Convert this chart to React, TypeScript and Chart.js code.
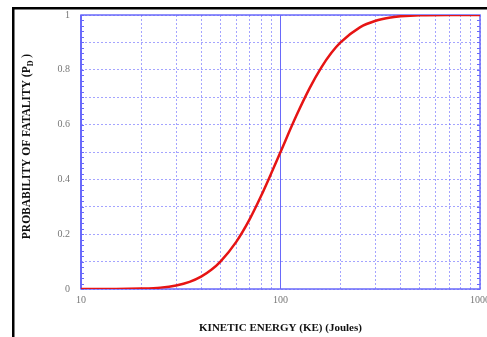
import React, { useEffect, useRef } from "react";
import { Chart, registerables } from "chart.js";

Chart.register(...registerables);

const energy = [10, 15, 20, 25, 30, 35, 40, 45, 50, 60, 70, 80, 90, 100, 120, 140, 160, 180, 200, 250, 300, 350, 400, 500, 700, 1000];
const fatality = [0, 0, 0.0015, 0.005, 0.013, 0.026, 0.045, 0.07, 0.1, 0.172, 0.254, 0.34, 0.423, 0.5, 0.632, 0.733, 0.808, 0.862, 0.9, 0.955, 0.979, 0.99, 0.995, 0.999, 1, 1];
const xTickValues = [10, 20, 30, 40, 50, 60, 70, 80, 90, 100, 200, 300, 400, 500, 600, 700, 800, 900, 1000];
const xLabelValues = [10, 100, 1000];
const yTitleMain = "PROBABILITY OF FATALITY (P";
const yTitleSub = "D";
const yTitleEnd = " )";
const xTitle = "KINETIC ENERGY (KE) (Joules)";

const BLUE = "rgb(105,105,250)";
const GRID = "rgba(90,90,255,0.55)";
const SERIF = "'Liberation Serif', 'Times New Roman', serif";

const decor = {
  id: "decor",
  beforeDatasetsDraw(chart: any) {
    const { ctx, chartArea: a, scales } = chart;
    const y = scales.y;
    ctx.save();
    ctx.strokeStyle = BLUE;
    ctx.lineWidth = 1.5;
    ctx.strokeRect(a.left, a.top, a.right - a.left, a.bottom - a.top);
    ctx.lineWidth = 2;
    ctx.beginPath();
    ctx.moveTo(a.left, a.top);
    ctx.lineTo(a.left, a.bottom);
    ctx.stroke();
    ctx.lineWidth = 1;
    for (let i = 0; i <= 50; i++) {
      const py = Math.round(y.getPixelForValue(i / 50)) + 0.5;
      ctx.beginPath();
      ctx.moveTo(a.left, py);
      ctx.lineTo(a.left + 3, py);
      ctx.moveTo(a.right, py);
      ctx.lineTo(a.right - 3, py);
      ctx.stroke();
    }
    ctx.restore();
  },
  afterDraw(chart: any) {
    const { ctx, chartArea: a } = chart;
    ctx.save();
    ctx.fillStyle = "#000";
    ctx.fillRect(12, 7, 487 - 12, 2.5);
    ctx.fillRect(12, 7, 2.5, 337 - 7);
    const cy = (a.top + a.bottom) / 2 - 5.5;
    ctx.translate(27.5, cy);
    ctx.rotate(-Math.PI / 2);
    ctx.fillStyle = "#111";
    ctx.textBaseline = "middle";
    const mainFont = `bold 11.5px ${SERIF}`;
    const subFont = `bold 8px ${SERIF}`;
    ctx.font = mainFont;
    const w1 = ctx.measureText(yTitleMain).width;
    const w3 = ctx.measureText(yTitleEnd).width;
    ctx.font = subFont;
    const w2 = ctx.measureText(yTitleSub).width;
    let x0 = -(w1 + w2 + w3) / 2;
    ctx.font = mainFont;
    ctx.fillText(yTitleMain, x0, 0);
    x0 += w1;
    ctx.font = subFont;
    ctx.fillText(yTitleSub, x0, 3);
    x0 += w2;
    ctx.font = mainFont;
    ctx.fillText(yTitleEnd, x0, 0);
    ctx.restore();
  },
};

export default function App() {
  const ref = useRef<HTMLCanvasElement>(null);
  useEffect(() => {
    if (!ref.current) return;
    const chart = new Chart(ref.current, {
      type: "line",
      data: {
        datasets: [
          {
            data: energy.map((e, i) => ({ x: e, y: fatality[i] })),
            borderColor: "rgb(230,20,20)",
            borderWidth: 2.5,
            pointRadius: 0,
            cubicInterpolationMode: "monotone",
            fill: false,
          },
        ],
      },
      options: {
        animation: false,
        responsive: false,
        devicePixelRatio: 1,
        layout: { padding: { left: 0, top: 15, right: 7, bottom: 0 } },
        plugins: { legend: { display: false }, tooltip: { enabled: false } },
        scales: {
          x: {
            type: "logarithmic",
            min: 10,
            max: 1000,
            afterBuildTicks: (s: any) => {
              s.ticks = xTickValues.map((v) => ({ value: v, major: xLabelValues.includes(v) }));
            },
            afterFit: (s: any) => {
              s.height = 48;
              s.paddingLeft = 0;
              s.paddingRight = 0;
            },
            grid: {
              drawTicks: false,
              color: (c: any) => (c.tick && c.tick.value === 100 ? BLUE : GRID),
              lineWidth: 1,
            },
            border: {
              display: false,
              dash: (c: any) => (c.tick && c.tick.value === 100 ? [] : [2, 2]),
            },
            ticks: {
              autoSkip: false,
              maxRotation: 0,
              padding: 5,
              color: "#777",
              font: { family: SERIF, size: 10 },
              callback: (v: any) => (xLabelValues.includes(Number(v)) ? String(v) : ""),
            },
            title: {
              display: true,
              text: xTitle,
              color: "#111",
              font: { family: SERIF, size: 11, weight: "bold" },
              padding: { top: 0, bottom: 2 },
            },
          },
          y: {
            type: "linear",
            min: 0,
            max: 1,
            afterFit: (s: any) => {
              s.width = 81;
              s.paddingTop = 0;
              s.paddingBottom = 0;
            },
            grid: { drawTicks: false, color: GRID, lineWidth: 1 },
            border: { display: false, dash: [2, 2] },
            ticks: {
              stepSize: 0.1,
              padding: 11,
              color: "#777",
              font: { family: SERIF, size: 10 },
              callback: (v: any) => {
                const n = Math.round(Number(v) * 10);
                if (n % 2 !== 0) return "";
                if (n === 0) return "0";
                if (n === 10) return "1";
                return (n / 10).toFixed(1);
              },
            },
          },
        },
      },
      plugins: [decor],
    });
    return () => chart.destroy();
  }, []);
  return (
    <div style={{ position: "absolute", left: 0, top: 0, width: 487, height: 337, background: "#fff" }}>
      <canvas ref={ref} width={487} height={337} style={{ display: "block", width: 487, height: 337 }} />
    </div>
  );
}
